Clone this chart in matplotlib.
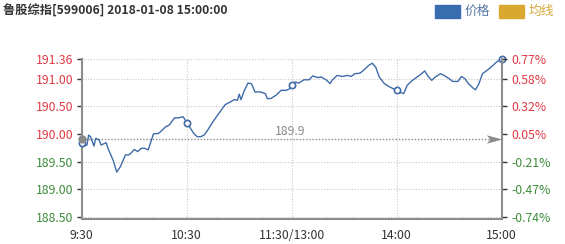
import matplotlib
matplotlib.use('Agg')
import matplotlib.pyplot as plt
from matplotlib.patches import Rectangle
from matplotlib.path import Path

plt.rcParams['font.family'] = ['Noto Sans CJK SC', 'DejaVu Sans']

title = "鲁股综指[599006] 2018-01-08 15:00:00"
legend_labels = ["价格", "均线"]

minutes = [0, 1, 3, 4, 5, 7, 8, 10, 11, 14, 15, 18, 20, 22, 25, 27, 29, 30, 32, 34,
           36, 38, 41, 44, 47, 48, 50, 53, 55, 58, 59, 60, 62, 64, 66, 68, 70, 72, 75, 77,
           79, 82, 85, 87, 89, 90, 91, 93, 95, 97, 99, 102, 105, 106, 108, 111, 114, 117, 119, 120,
           122, 124, 127, 130, 132, 135, 137, 140, 142, 143, 146, 149, 152, 154, 156, 159, 161, 164, 166, 168,
           170, 173, 176, 178, 180, 181, 184, 186, 189, 193, 196, 198, 200, 202, 205, 207, 210, 212, 215, 217,
           219, 221, 224, 225, 227, 229, 232, 235, 237, 240]
prices = [189.84, 189.77, 189.80, 189.98, 189.95, 189.78, 189.92, 189.89, 189.80, 189.84,
          189.74, 189.52, 189.31, 189.40, 189.62, 189.62, 189.68, 189.72, 189.68, 189.74,
          189.74, 189.71, 190.00, 190.01, 190.10, 190.13, 190.16, 190.29, 190.29, 190.31,
          190.26, 190.20, 190.11, 190.01, 189.95, 189.95, 189.98, 190.07, 190.22, 190.31,
          190.40, 190.53, 190.58, 190.62, 190.61, 190.72, 190.62, 190.79, 190.92, 190.91,
          190.76, 190.76, 190.73, 190.64, 190.64, 190.70, 190.79, 190.79, 190.82, 190.89,
          190.94, 190.92, 190.98, 190.98, 191.05, 191.02, 191.03, 190.97, 190.91, 190.97,
          191.06, 191.04, 191.06, 191.04, 191.09, 191.10, 191.15, 191.24, 191.28, 191.21,
          191.03, 190.91, 190.85, 190.82, 190.80, 190.76, 190.73, 190.88, 190.97, 191.06,
          191.14, 191.04, 190.97, 191.03, 191.09, 191.06, 191.00, 190.95, 190.95, 191.04,
          191.00, 190.91, 190.82, 190.80, 190.91, 191.09, 191.16, 191.24, 191.30, 191.36]

prev_close = 189.9
y_ticks = [188.50, 189.00, 189.50, 190.00, 190.50, 191.00, 191.36]
y_tick_labels = ["188.50", "189.00", "189.50", "190.00", "190.50", "191.00", "191.36"]
pct_labels = ["-0.74%", "-0.47%", "-0.21%", "0.05%", "0.32%", "0.58%", "0.77%"]
x_ticks = [0, 60, 120, 180, 240]
x_tick_labels = ["9:30", "10:30", "11:30/13:00", "14:00", "15:00"]
marker_minutes = [0, 60, 120, 180, 240]

RED = '#e23a45'
GREEN = '#3d8c3d'
LINE = '#3f6ba8'
AXC = '#8c8c8c'
GRID = '#c8c8c8'

W, H = 565, 244
fig = plt.figure(figsize=(W / 100, H / 100), dpi=100)
left, right, top, bottom = 81.7, 501.7, 58.8, 219.0
ax = fig.add_axes([left / W, 1 - bottom / H, (right - left) / W, (bottom - top) / H])
ax.set_xlim(0, 240)
ax.set_ylim(188.46, 191.36)

# grid
for v in y_ticks:
    if v == 190.00:
        continue
    ax.axhline(v, color=GRID, lw=0.8, ls=(0, (1, 1.5)), zorder=0)
for m in x_ticks[1:-1]:
    ax.axvline(m, color=GRID, lw=0.8, ls=(0, (1, 1.5)), zorder=0)

# base line
ax.plot([0, 240], [prev_close, prev_close], color='#8a8a8a', lw=1.0, ls=(0, (1, 1.3)), zorder=2)
arrow = Path([(1, 0), (-1, 0.55), (-0.55, 0), (-1, -0.55), (1, 0)],
             [Path.MOVETO, Path.LINETO, Path.LINETO, Path.LINETO, Path.CLOSEPOLY])
ax.plot([235.7], [prev_close], marker=arrow, ms=11, color='#8a8a8a', mec='none',
        clip_on=False, zorder=5)
ax.annotate(f"{prev_close}", xy=(119, prev_close), xytext=(0, 1), textcoords='offset points',
            ha='center', va='bottom', color='#8a8a8a', fontsize=8.8)

# price line
ax.plot(minutes, prices, color=LINE, lw=1.0, zorder=3)
mk_y = [prices[minutes.index(m)] for m in marker_minutes]
ax.plot(marker_minutes, mk_y, 'o', ms=4.5, mfc='white', mec=LINE, mew=1.2,
        clip_on=False, zorder=4)
ax.plot([0], [prev_close], 'o', ms=6, color='#8a8a8a', mec='none', clip_on=False, zorder=6)

# axes
ax.spines['top'].set_visible(False)
ax.spines['right'].set_visible(False)
for s in ('left', 'bottom'):
    ax.spines[s].set_color(AXC)
    ax.spines[s].set_linewidth(1.5)
ax.set_yticks(y_ticks)
ax.set_yticklabels(y_tick_labels)
ax.tick_params(axis='y', length=3.5, width=1, color='#333333', pad=2.5, labelsize=8.8)
for lbl, v in zip(ax.get_yticklabels(), y_ticks):
    lbl.set_color(RED if v >= prev_close else GREEN)
ax.set_xticks(x_ticks)
ax.set_xticklabels(x_tick_labels)
ax.tick_params(axis='x', length=0, pad=7, labelsize=8.8, labelcolor='#333333')

ax2 = ax.twinx()
ax2.set_ylim(ax.get_ylim())
for s in ('left', 'top', 'bottom'):
    ax2.spines[s].set_visible(False)
ax2.spines['right'].set_color(AXC)
ax2.spines['right'].set_linewidth(1.5)
ax2.set_yticks(y_ticks)
ax2.set_yticklabels(pct_labels)
ax2.tick_params(axis='y', length=3.5, width=1, color='#333333', pad=3.5, labelsize=8.8)
for lbl, v in zip(ax2.get_yticklabels(), y_ticks):
    lbl.set_color(RED if v >= prev_close else GREEN)

# title
fig.text(3 / W, 1 - 11.5 / H, title, fontsize=8.8, fontweight='bold', color='#333333',
         ha='left', va='center')

# legend
fig.patches.append(Rectangle((435 / W, 1 - 18 / H), 25 / W, 13 / H, transform=fig.transFigure,
                             color='#3a6db0'))
fig.text(465 / W, 1 - 11.5 / H, legend_labels[0], color='#5577a6', fontsize=9.2,
         ha='left', va='center')
fig.patches.append(Rectangle((499 / W, 1 - 18 / H), 25 / W, 13 / H, transform=fig.transFigure,
                             color='#d9a82e'))
fig.text(529 / W, 1 - 11.5 / H, legend_labels[1], color='#d4a83a', fontsize=9.2,
         ha='left', va='center')

fig.savefig('out.png', dpi=100)
